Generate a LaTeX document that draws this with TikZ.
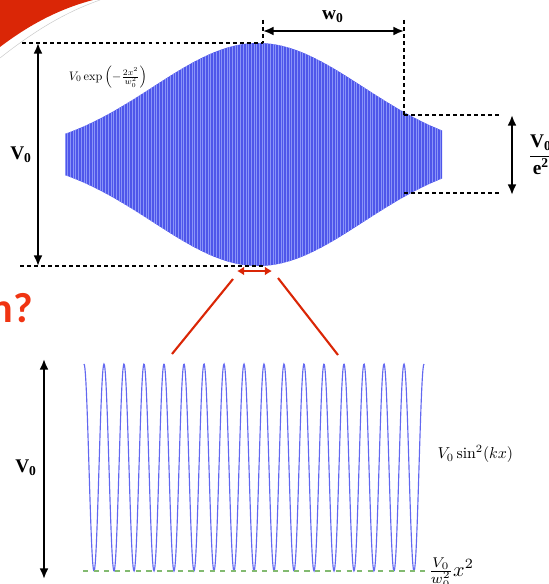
\documentclass[tikz,border=0pt]{standalone}
\usepackage{amsmath}
\usepackage{fontspec}
\newfontfamily\timesbf{Liberation Serif}
\newfontfamily\titlefont{Carlito}
\usetikzlibrary{arrows.meta, positioning}
\definecolor{slidered}{RGB}{218,38,6}
\definecolor{titlered}{RGB}{240,52,18}
\definecolor{envblue}{RGB}{78,86,234}
\definecolor{stripe}{RGB}{138,148,248}
\definecolor{wavecol}{RGB}{98,104,240}
\definecolor{parab}{RGB}{130,186,112}
\tikzset{
  dim/.style={line width=1.1pt, {Latex[length=6pt,width=5pt]}-{Latex[length=6pt,width=5pt]}},
  guide/.style={line width=0.7pt, dash pattern=on 2.2pt off 1.8pt},
  zoomline/.style={slidered, line width=1.2pt},
  boldlbl/.style={font=\timesbf\bfseries\fontsize{11}{12}\selectfont, inner sep=1pt}
}
\newcommand{\Vbf}{{\timesbf\bfseries V\textsubscript{0}}}

\begin{document}
\begin{tikzpicture}[x=0.02cm, y=-0.02cm, >=Latex]
  \useasboundingbox (0,0) rectangle (548,584);
  \fill[slidered] (0,0) -- (0,47) .. controls (25,28) and (55,10) .. (93,0) -- cycle;
  \draw[black!20, line width=0.3pt] (0,58) .. controls (28,36) and (60,14) .. (100,0);
  \node[font=\titlefont\bfseries\fontsize{24}{26}\selectfont, text=titlered, anchor=base east, inner sep=0] (title) at (33,322) {n?};

  % gaussian envelope
  \begin{scope}
    \clip plot[domain=65:442, samples=120] (\x, {154.5-111.5*exp(-2*((\x-258)/210)^2)})
      -- plot[domain=442:65, samples=120] (\x, {154.5+111.5*exp(-2*((\x-258)/210)^2)}) -- cycle;
    \fill[envblue] (60,40) rectangle (450,270);
    \foreach \i in {0,...,140}
      \draw[stripe, line width=0.35pt] ({65+2.7*\i},40) -- ++(0,230);
  \end{scope}
  \node[scale=0.7] (envlbl) at (108,77) {$V_0\exp\left(-\frac{2x^2}{w_0^2}\right)$};

  \coordinate (peakT) at (263,43);
  \coordinate (peakB) at (263,266);
  \coordinate (topL) at (22,43);
  \coordinate (botL) at (20,266);
  \coordinate (vT) at (38,43);
  \coordinate (vB) at (38,266);
  \draw[guide] (topL) -- (peakT);
  \draw[guide] (botL) -- (peakB);
  \draw[dim] (vT) -- (vB);
  \node[boldlbl, anchor=east] (vzero) at (34,155) {\Vbf};

  \coordinate (wA) at (263,20);
  \coordinate (wB) at (404,20);
  \coordinate (wArrL) at (263,31);
  \coordinate (wArrR) at (404,31);
  \coordinate (eT) at (404,115);
  \coordinate (eB) at (404,193);
  \coordinate (eTR) at (500,115);
  \coordinate (eBR) at (500,193);
  \coordinate (eArrT) at (512,115);
  \coordinate (eArrB) at (512,195);
  \draw[guide] (wA) -- (peakT);
  \draw[guide] (wB) -- (eT);
  \draw[dim] (wArrL) -- (wArrR);
  \node[boldlbl] (wlabel) at (333,17) {w\textsubscript{0}};
  \draw[guide] (eT) -- (eTR);
  \draw[guide] (eB) -- (eBR);
  \draw[dim] (eArrT) -- (eArrB);
  \node[boldlbl, anchor=west] (efrac) at (526,155)
    {$\dfrac{\mbox{\Vbf}}{\mbox{\timesbf\bfseries e\textsuperscript{2}}}$};

  % zoom onto the centre
  \coordinate (spotL) at (237,271);
  \coordinate (spotR) at (272,271);
  \coordinate (lensL1) at (233,279);
  \coordinate (lensL2) at (172,354);
  \coordinate (lensR1) at (278,278);
  \coordinate (lensR2) at (338,355);
  \draw[zoomline, {Latex[length=4pt,width=5pt]}-{Latex[length=4pt,width=5pt]}] (spotL) -- (spotR);
  \draw[zoomline] (lensL1) -- (lensL2);
  \draw[zoomline] (lensR1) -- (lensR2);

  % lattice
  \draw[wavecol, line width=0.65pt] plot[domain=84:424, samples=700] (\x, {571-207*cos(9*(\x-84))^2});
  \coordinate (pbL) at (83,571);
  \coordinate (pbR) at (425,571);
  \draw[parab, dashed, line width=0.6pt] (pbL) -- (pbR);
  \coordinate (bT) at (44,359);
  \coordinate (bB) at (44,579);
  \draw[dim] (bT) -- (bB);
  \node[boldlbl, anchor=east] (vzerob) at (39,468) {\Vbf};
  \node[scale=0.9, anchor=west] (sinlbl) at (432,454) {$V_0\sin^2(kx)$};
  \node[scale=1.15, anchor=west, inner sep=0] (parlbl) at (428,573) {$\frac{V_0}{w_0^2}x^2$};
\end{tikzpicture}
\end{document}
